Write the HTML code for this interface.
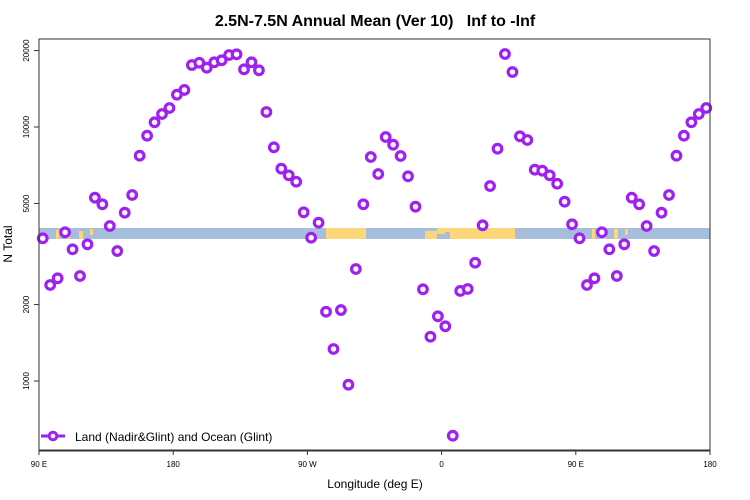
<!DOCTYPE html>
<html><head><meta charset="utf-8"><style>
body{margin:0;background:#fff;}
svg{display:block;font-family:"Liberation Sans",sans-serif;}
</style></head><body>
<svg id="chart" width="750" height="500" xmlns="http://www.w3.org/2000/svg">
<text x="375" y="26" text-anchor="middle" font-size="16" font-weight="bold" style="white-space:pre" xml:space="preserve">2.5N-7.5N Annual Mean (Ver 10)   Inf to -Inf</text>
<g id="band">
<rect x="39" y="228" width="671" height="11" fill="#a6bddb"/>
<rect x="326" y="228" width="40" height="11" fill="#fcd77a"/>
<rect x="425" y="231" width="12" height="8" fill="#fcd77a"/>
<rect x="437" y="228" width="8" height="6" fill="#fcd77a"/>
<rect x="445" y="228" width="5" height="4" fill="#fcd77a"/>
<rect x="450" y="228" width="65" height="11" fill="#fcd77a"/>
<rect x="56" y="230" width="3" height="9" fill="#fcd77a"/>
<rect x="67" y="229" width="3" height="10" fill="#fcd77a"/>
<rect x="79" y="231" width="4" height="8" fill="#fcd77a"/>
<rect x="90" y="229" width="3" height="6" fill="#fcd77a"/>
<rect x="592" y="229" width="3" height="10" fill="#fcd77a"/>
<rect x="603" y="230" width="3" height="9" fill="#fcd77a"/>
<rect x="614" y="229" width="4" height="10" fill="#fcd77a"/>
<rect x="625" y="229" width="3" height="6" fill="#fcd77a"/>
</g>
<g id="axes"></g>
<g id="points"></g>
<rect x="39" y="39" width="671" height="411.5" fill="none" stroke="#333" stroke-width="1"/>
<line x1="39" y1="450.5" x2="710" y2="450.5" stroke="#333" stroke-width="2"/>
<text x="375" y="488" text-anchor="middle" font-size="12">Longitude (deg E)</text>
<text transform="translate(12,244) rotate(-90)" text-anchor="middle" font-size="12">N Total</text>
<g>
<line x1="41" y1="436" x2="65" y2="436" stroke="#a020f0" stroke-width="3"/>
<circle cx="53" cy="436" r="3.8" fill="#fff" stroke="#a020f0" stroke-width="3"/>
<text x="75" y="441" font-size="12">Land (Nadir&amp;Glint) and Ocean (Glint)</text>
</g>
</svg>
<script>
const values = [3646,2388,2537,3850,3300,2591,3453,5269,4963,4076,3249,4598,5400,7709,9242,10435,11250,11880,13405,13990,17540,17910,17120,17980,18310,19210,19330,16870,17980,16720,11460,8318,6852,6452,6088,4615,3666,4201,1874,1337,1903,967,2760,4963,7618,6531,9134,8518,7688,6397,4856,2296,1494,1798,1642,609,2262,2303,2922,4102,5856,8214,19380,16460,9192,8889,6791,6730,6452,5980,5081,4140];
const yTicks = [1000,2000,5000,10000,20000];
const xTickLabels = ["90 E","180","90 W","0","90 E","180"];
const xTickOffsets = [0,90,180,270,360,450];
const NS="http://www.w3.org/2000/svg";
function xs(off){return 39+off*671/450;}
function ys(v){return 381-254*Math.log10(v/1000);}
const ax=document.getElementById('axes');
yTicks.forEach(v=>{
 const l=document.createElementNS(NS,'line');
 l.setAttribute('x1',34);l.setAttribute('x2',39);l.setAttribute('y1',ys(v));l.setAttribute('y2',ys(v));l.setAttribute('stroke','#333');
 
 
 ax.appendChild(l);
 const t=document.createElementNS(NS,'text');
 t.setAttribute('transform','translate(29,'+ys(v)+') rotate(-90)');
 t.setAttribute('text-anchor','middle');t.setAttribute('font-size','8');t.textContent=v;
 
 
 ax.appendChild(t);
});
xTickOffsets.forEach((o,i)=>{
 const l=document.createElementNS(NS,'line');
 l.setAttribute('x1',xs(o));l.setAttribute('x2',xs(o));l.setAttribute('y1',450);l.setAttribute('y2',455);l.setAttribute('stroke','#333');
 
 
 ax.appendChild(l);
 const t=document.createElementNS(NS,'text');
 t.setAttribute('x',xs(o));t.setAttribute('y',467);t.setAttribute('text-anchor','middle');t.setAttribute('font-size','8');t.textContent=xTickLabels[i];
 
 
 ax.appendChild(t);
});
const pg=document.getElementById('points');
const n=values.length;
for(let k=0;k<90;k++){
 const v=values[k%n];
 const c=document.createElementNS(NS,'circle');
 c.setAttribute('cx',xs(2.5+5*k));c.setAttribute('cy',ys(v));c.setAttribute('r',4.3);
 c.setAttribute('fill','#fff');c.setAttribute('stroke','#a020f0');c.setAttribute('stroke-width',3.2);
 
 
 pg.appendChild(c);
}
</script>
</body></html>
